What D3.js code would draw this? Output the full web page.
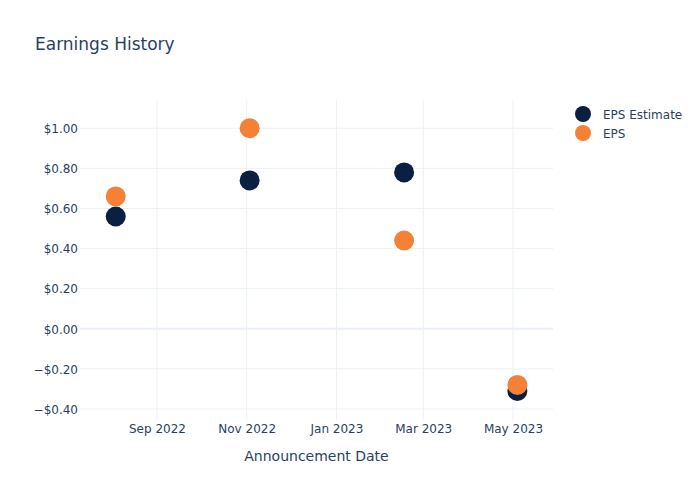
<!DOCTYPE html>
<html><head><meta charset="utf-8">
<script src="https://cdn.jsdelivr.net/npm/d3@7"></script>
<style>body{margin:0;background:#fff}svg{display:block}text{font-family:"DejaVu Sans",sans-serif;fill:#2a3f5f}</style>
</head><body>
<script>
const dates = ["2022-08-04","2022-11-03","2023-02-16","2023-05-04"];
const epsEstimate = [0.56, 0.74, 0.78, -0.31];
const eps = [0.66, 1.00, 0.44, -0.28];
const yTicks = [-0.4,-0.2,0,0.2,0.4,0.6,0.8,1.0];
const seriesNames = ["EPS Estimate","EPS"];
const colors = ["#0b1f41","#f58136"];

const W=700,H=500, L=80,R=553,T=100,B=420;
const svg=d3.select("body").append("svg").attr("width",W).attr("height",H);
const parse=d3.utcParse("%Y-%m-%d");
const x=d3.scaleUtc().domain([new Date(Date.UTC(2022,6,10,17)),new Date(Date.UTC(2023,4,28,5))]).range([L,R]);
const y=d3.scaleLinear().domain([-0.455,1.141]).range([B,T]);

const xTicks=[parse("2022-09-01"),parse("2022-11-01"),parse("2023-01-01"),parse("2023-03-01"),parse("2023-05-01")];
// grid
svg.append("g").selectAll("line").data(xTicks).join("line")
 .attr("x1",d=>x(d)).attr("x2",d=>x(d)).attr("y1",T).attr("y2",B).attr("stroke","#ebf0f8");
svg.append("g").selectAll("line").data(yTicks.filter(d=>d!==0)).join("line")
 .attr("x1",L).attr("x2",R).attr("y1",d=>y(d)).attr("y2",d=>y(d)).attr("stroke","#ebf0f8");
svg.append("line").attr("x1",L).attr("x2",R).attr("y1",y(0)).attr("y2",y(0)).attr("stroke","#ebf0f8").attr("stroke-width",2);

// axes
const fmt=d=>(d<0?"\u2212":"")+"$"+Math.abs(d).toFixed(2);
const ya=svg.append("g").attr("transform",`translate(${L},0)`).call(d3.axisLeft(y).tickValues(yTicks).tickFormat(fmt).tickSize(0).tickPadding(2));
ya.select(".domain").remove();
ya.selectAll("text").attr("font-size",12).attr("font-family","DejaVu Sans").attr("fill","#2a3f5f").attr("dy","0.36em");
const xa=svg.append("g").attr("transform",`translate(0,${B})`).call(d3.axisBottom(x).tickValues(xTicks).tickFormat(d3.utcFormat("%b %Y")).tickSize(0).tickPadding(4));
xa.select(".domain").remove();
xa.selectAll("text").attr("font-size",12).attr("font-family","DejaVu Sans").attr("fill","#2a3f5f");

// points
[epsEstimate,eps].forEach((vals,i)=>{
  svg.append("g").selectAll("circle").data(vals).join("circle")
   .attr("cx",(d,j)=>x(parse(dates[j]))).attr("cy",d=>y(d)).attr("r",10).attr("fill",colors[i]);
});

// titles
svg.append("text").attr("x",35).attr("y",50).attr("font-size",17).text("Earnings History");
svg.append("text").attr("x",(L+R)/2).attr("y",461).attr("text-anchor","middle").attr("font-size",14).text("Announcement Date");

// legend
seriesNames.forEach((n,i)=>{
  const cy=114+i*19;
  svg.append("circle").attr("cx",583).attr("cy",cy).attr("r",8).attr("fill",colors[i]);
  svg.append("text").attr("x",603).attr("y",cy+0.5).attr("dy","0.35em").attr("font-size",12).text(n);
});
</script>
</body></html>
